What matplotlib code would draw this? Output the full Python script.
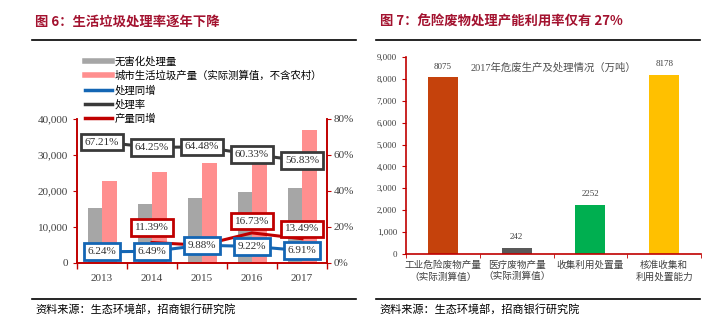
import matplotlib
matplotlib.use("Agg")
import matplotlib.pyplot as plt
from matplotlib.lines import Line2D
import numpy as np

plt.rcParams['font.family'] = ['Liberation Serif', 'Noto Sans CJK SC', 'DejaVu Sans']

# ---- left chart data ----
years = ['2013', '2014', '2015', '2016', '2017']
treated = [15300, 16290, 17960, 19610, 20970]          # 无害化处理量
produced = [22760, 25350, 27850, 32500, 36900]         # 城市生活垃圾产量
treat_growth = [6.24, 6.49, 9.88, 9.22, 6.91]          # 处理同增 %
treat_rate = [67.21, 64.25, 64.48, 60.33, 56.83]       # 处理率 %
prod_years = ['2014', '2015', '2016', '2017']
prod_growth = [11.39, 9.88, 16.73, 13.49]              # 产量同增 %
prod_label_years = ['2014', '2016', '2017']
prod_label_vals = [11.39, 16.73, 13.49]

# ---- right chart data ----
hw_cats = ['工业危险废物产量\n（实际测算值）', '医疗废物产量\n（实际测算值）',
           '收集利用处置量', '核准收集和\n利用处置能力']
hw_vals = [8075, 242, 2252, 8178]
hw_colors = ['#C5420C', '#595959', '#00AF50', '#FFC000']

RED = '#C00000'
TITLE = '#A3122F'
GRAY = '#A6A6A6'
PINK = '#FF8F8F'
BLUE = '#1466B4'
DARK = '#3A3A3A'

fig = plt.figure(figsize=(7.17, 3.33), dpi=100)

# titles and rules
fig.text(35/717, 1-22/333, '图 6：生活垃圾处理率逐年下降', fontsize=9.6, fontweight='bold',
         color=TITLE, family=['Noto Sans CJK SC'], va='center')
fig.text(380/717, 1-22/333, '图 7：危险废物处理产能利用率仅有 27%', fontsize=9.6, fontweight='bold',
         color=TITLE, family=['Noto Sans CJK SC'], va='center')
for x0, x1 in [(32, 356), (376, 700)]:
    for yy in [40, 299]:
        fig.add_artist(Line2D([x0/717, x1/717], [1-yy/333, 1-yy/333], color='black', lw=1.2))
    fig.text((x0+3)/717, 1-309/333, '资料来源：生态环境部，招商银行研究院', fontsize=8,
             family=['Noto Sans CJK SC'], va='center')

# ---------------- left chart ----------------
ax = fig.add_axes([77/717, 1-263/333, 250/717, 144/333])
x = np.arange(len(years))
w = 0.29
ax.bar(x - w/2, treated, w, color=GRAY, label='无害化处理量')
ax.bar(x + w/2, produced, w, color=PINK, label='城市生活垃圾产量（实际测算值，不含农村）')
ax.set_xlim(-0.5, len(years) - 0.5)
ax.set_ylim(0, 40000)
ax.set_yticks(range(0, 40001, 10000))
ax.set_yticklabels(['{:,}'.format(v) for v in range(0, 40001, 10000)])
ax.set_xticks(x)
ax.set_xticklabels(years)
ax.set_xticks(np.arange(-0.5, len(years)), minor=True)
ax.tick_params(axis='x', which='major', length=0, pad=8, labelsize=8, labelcolor='#404040')
ax.tick_params(axis='x', which='minor', length=4, color=RED, width=1)
ax.tick_params(axis='y', length=3, color=RED, labelsize=8, labelcolor='#404040')
ax.spines['top'].set_visible(False)
for s in ['left', 'right', 'bottom']:
    ax.spines[s].set_color(RED)
    ax.spines[s].set_linewidth(1.2)

ax2 = ax.twinx()
ax2.set_ylim(0, 80)
ax2.set_yticks([0, 20, 40, 60, 80])
ax2.set_yticklabels(['0%', '20%', '40%', '60%', '80%'])
ax2.tick_params(axis='y', length=3, color=RED, labelsize=8, labelcolor='#404040', pad=2)
ax2.spines['top'].set_visible(False)
for s in ['left', 'right', 'bottom']:
    ax2.spines[s].set_color(RED)
    ax2.spines[s].set_linewidth(1.2)

px = [years.index(y) for y in prod_years]
ax2.plot(px, prod_growth, color=RED, lw=2.2, label='产量同增', zorder=3)
ax2.plot(x, treat_growth, color=BLUE, lw=2.2, label='处理同增', zorder=3)
ax2.plot(x, treat_rate, color=DARK, lw=2.2, label='处理率', zorder=3)

def box(axis, xi, yv, txt, ec, dy=0):
    axis.annotate(txt, (xi, yv), xytext=(0, dy), textcoords='offset points',
                  ha='center', va='center', fontsize=8, color='#303030', zorder=5,
                  bbox=dict(boxstyle='square,pad=0.35', fc='white', ec=ec, lw=2))

for i, v in enumerate(treat_rate):
    box(ax2, i, v, '{:.2f}%'.format(v), DARK)
for i, v in enumerate(treat_growth):
    box(ax2, i, v, '{:.2f}%'.format(v), BLUE)
# red labels sit a little above their points
for yr, v, dy in zip(prod_label_years, prod_label_vals, [11, 8.5, 7]):
    box(ax2, years.index(yr), v, '{:.2f}%'.format(v), RED, dy=dy)

handles = [Line2D([], [], color=GRAY, lw=4), Line2D([], [], color=PINK, lw=4),
           Line2D([], [], color=BLUE, lw=2.5), Line2D([], [], color=DARK, lw=2.5),
           Line2D([], [], color=RED, lw=2.5)]
labels = ['无害化处理量', '城市生活垃圾产量（实际测算值，不含农村）', '处理同增', '处理率', '产量同增']
fig.legend(handles, labels, loc='upper left', bbox_to_anchor=(80/717, 1-51/333),
           frameon=False, handlelength=2.6, handletextpad=0.2,
           labelspacing=0.38, borderpad=0, prop={'family': ['Noto Sans CJK SC'], 'size': 7.5})

# ---------------- right chart ----------------
bx = fig.add_axes([406/717, 1-253.7/333, 295/717, 196.4/333])
xi = np.arange(len(hw_cats))
bx.bar(xi, hw_vals, 0.41, color=hw_colors)
for i, v in enumerate(hw_vals):
    bx.annotate(str(v), (i, v), xytext=(0, 5), textcoords='offset points',
                ha='center', va='bottom', fontsize=6.5, color='#404040')
bx.set_xlim(-0.5, len(hw_cats) - 0.5)
bx.set_ylim(0, 9000)
bx.set_yticks(range(0, 9001, 1000))
bx.set_yticklabels(['{:,}'.format(v) for v in range(0, 9001, 1000)])
bx.set_xticks(xi)
bx.set_xticklabels(hw_cats, family=['Noto Sans CJK SC'], fontsize=6.9, color='#404040', linespacing=1.3)
bx.set_xticks(np.arange(-0.5, len(hw_cats)), minor=True)
bx.tick_params(axis='x', which='major', length=0, pad=5)
bx.tick_params(axis='x', which='minor', length=3, color=RED)
bx.tick_params(axis='y', length=3, color=RED, labelsize=6.5, labelcolor='#404040')
for s in ['top', 'right']:
    bx.spines[s].set_visible(False)
for s in ['left', 'bottom']:
    bx.spines[s].set_color(RED)
    bx.spines[s].set_linewidth(1.2)
bx.text(0.5, 0.95, '2017年危废生产及处理情况（万吨）', transform=bx.transAxes, ha='center',
        va='center', fontsize=7.5, color='#505050', family=['Liberation Serif', 'Noto Sans CJK SC'])

fig.savefig('out.png', dpi=100)
